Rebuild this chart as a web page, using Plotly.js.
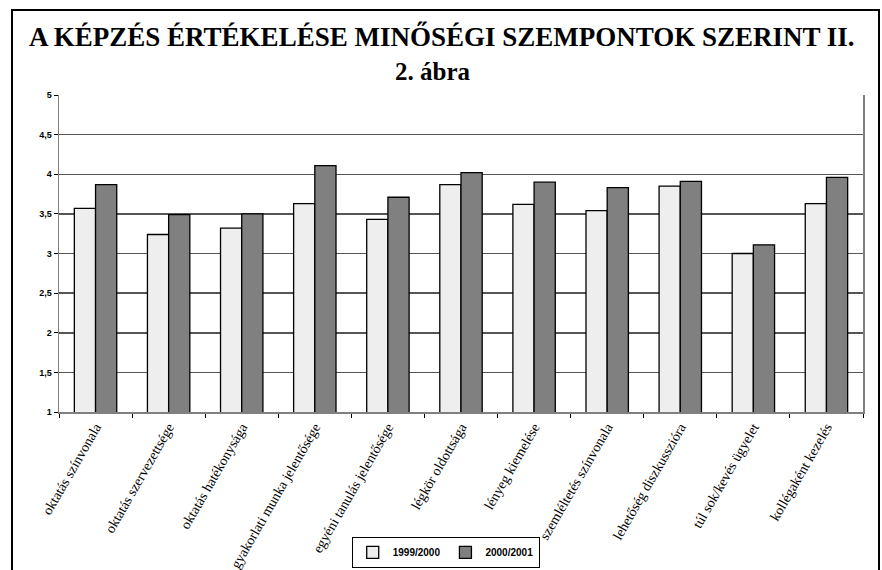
<!DOCTYPE html>
<html>
<head>
<meta charset="utf-8">
<script src="https://cdn.plot.ly/plotly-3.0.1.min.js"></script>
<style>html,body{margin:0;padding:0;background:#fff;}#chart{width:882px;height:570px;}</style>
</head>
<body>
<div id="chart"></div>
<script>
const categories = [
  "oktatás színvonala",
  "oktatás szervezettsége",
  "oktatás hatékonysága",
  "gyakorlati munka jelentősége",
  "egyéni tanulás jelentősége",
  "légkör oldottsága",
  "lényeg kiemelése",
  "szemléltetés színvonala",
  "lehetőség diszkusszióra",
  "túl sok/kevés ügyelet",
  "kollégaként kezelés"
];
const series1999 = [3.57, 3.24, 3.32, 3.63, 3.43, 3.87, 3.62, 3.54, 3.85, 3.00, 3.63];
const series2000 = [3.87, 3.49, 3.50, 4.11, 3.71, 4.02, 3.90, 3.83, 3.91, 3.11, 3.96];
const yTickVals = [1, 1.5, 2, 2.5, 3, 3.5, 4, 4.5, 5];
const yTickText = ["1", "1,5", "2", "2,5", "3", "3,5", "4", "4,5", "5"];

const traces = [
  {type: "bar", name: "1999/2000", x: categories, y: series1999,
   marker: {color: "#eeeeee", line: {color: "#000", width: 1.3}}},
  {type: "bar", name: "2000/2001", x: categories, y: series2000,
   marker: {color: "#808080", line: {color: "#000", width: 1.3}}}
];

const layout = {
  width: 882, height: 570,
  margin: {l: 59, r: 19, t: 95, b: 158, autoexpand: false},
  paper_bgcolor: "#fff", plot_bgcolor: "#fff",
  barmode: "group", bargap: 0.42, bargroupgap: 0,
  showlegend: true,
  legend: {orientation: "h", x: 0.481, xanchor: "center", y: -0.443, yanchor: "middle",
    bordercolor: "#000", borderwidth: 1, bgcolor: "#fff",
    font: {family: "Liberation Sans, Arial", size: 10, color: "#000", weight: "bold"},
    itemwidth: 30, tracegroupgap: 0},
  xaxis: {type: "category", tickson: "boundaries", ticks: "outside", ticklen: 4, tickcolor: "#000",
    showline: true, linecolor: "#808080", linewidth: 1.5, tickangle: -60, automargin: false,
    tickfont: {family: "Liberation Serif, Times New Roman", size: 14, color: "#000"},
    showgrid: false, fixedrange: true},
  yaxis: {range: [1, 5], tickvals: yTickVals, ticktext: yTickText, ticks: "outside", ticklen: 4,
    tickcolor: "#000", showline: true, mirror: true, linecolor: "#808080", linewidth: 1.5,
    gridcolor: "#555555", gridwidth: 1.5, zeroline: false, automargin: false,
    tickfont: {family: "Liberation Sans, Arial", size: 9, color: "#000", weight: "bold"},
    fixedrange: true},
  annotations: [
    {text: "A KÉPZÉS ÉRTÉKELÉSE MINŐSÉGI SZEMPONTOK SZERINT II.", xref: "paper", yref: "paper",
     x: (442 - 59) / 804, y: (411.7 - 37) / 316.7, xanchor: "center", yanchor: "middle", showarrow: false,
     font: {family: "Liberation Serif, Times New Roman", size: 27, color: "#000", weight: "bold"}},
    {text: "2. ábra", xref: "paper", yref: "paper",
     x: (433 - 59) / 804, y: (411.7 - 72) / 316.7, xanchor: "center", yanchor: "middle", showarrow: false,
     font: {family: "Liberation Serif, Times New Roman", size: 25, color: "#000", weight: "bold"}}
  ],
  shapes: [
    {type: "rect", xref: "paper", yref: "paper",
     x0: (12 - 59) / 804, x1: (879 - 59) / 804, y0: (411.7 - 575) / 316.7, y1: (411.7 - 10) / 316.7,
     line: {color: "#000", width: 2}, fillcolor: "rgba(0,0,0,0)"}
  ]
};

Plotly.newPlot("chart", traces, layout, {displayModeBar: false, staticPlot: true});
</script>
</body>
</html>
